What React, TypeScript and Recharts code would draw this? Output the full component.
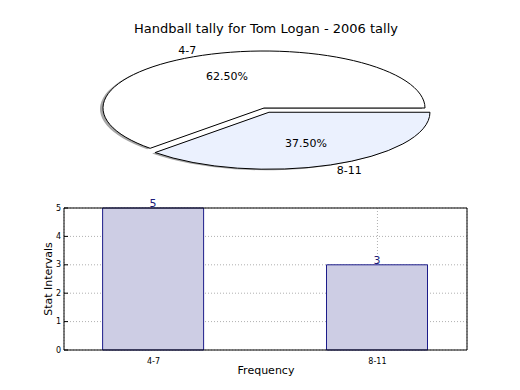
import { PieChart, Pie, BarChart, Bar, XAxis, YAxis, CartesianGrid, ReferenceLine, LabelList } from "recharts";

const categories = ["4-7", "8-11"];
const counts = [5, 3];
const yTicks = [0, 1, 2, 3, 4, 5];
const xTicks = [0, 1];

const sliceColors = ["#ffffff", "#ebf1fe"];
const explode = [0, 13];

const FONT = "'DejaVu Sans', sans-serif";
const SQUISH = 57 / 161;
const RAD = Math.PI / 180;

const pieRows = categories.map((label, i) => ({ label, value: counts[i], fill: sliceColors[i] }));
const barRows = categories.map((label, i) => ({ pos: i, label, value: counts[i] }));

// offset of a wedge (explode) in squished pie coordinates
function wedgeOffset(name: string, startAngle: number, endAngle: number) {
  const i = categories.indexOf(name);
  const mid = ((startAngle + endAngle) / 2) * RAD;
  const d = explode[i] || 0;
  return { ox: Math.cos(mid) * d, oy: -Math.sin(mid) * d * SQUISH };
}

function wedgePath(cx: number, cy: number, r: number, a0: number, a1: number) {
  const rx = r;
  const ry = r * SQUISH;
  const x0 = cx + rx * Math.cos(a0 * RAD);
  const y0 = cy - ry * Math.sin(a0 * RAD);
  const x1 = cx + rx * Math.cos(a1 * RAD);
  const y1 = cy - ry * Math.sin(a1 * RAD);
  const large = Math.abs(a1 - a0) > 180 ? 1 : 0;
  return `M${cx},${cy} L${x0},${y0} A${rx},${ry} 0 ${large} 0 ${x1},${y1} Z`;
}

function makeWedge(shadow: boolean) {
  return (props: any) => {
    const { cx, cy, outerRadius, startAngle, endAngle, payload } = props;
    const name = payload?.label ?? props.name;
    let { ox, oy } = wedgeOffset(name, startAngle, endAngle);
    if (shadow) {
      ox -= 3;
      oy += 1;
    }
    const d = wedgePath(cx + ox, cy + oy, outerRadius, startAngle, endAngle);
    if (shadow) return <path d={d} fill="#4d4d4d" fillOpacity={0.5} stroke="none" />;
    return <path d={d} fill={payload?.fill ?? props.fill} stroke="#000" strokeWidth={1} />;
  };
}

function pieLabel(props: any) {
  const { cx, cy, outerRadius, startAngle, endAngle, percent, payload } = props;
  const name = payload?.label ?? props.name;
  const { ox, oy } = wedgeOffset(name, startAngle, endAngle);
  const mid = ((startAngle + endAngle) / 2) * RAD;
  const c = Math.cos(mid);
  const s = Math.sin(mid);
  const lx = cx + ox + c * outerRadius * 1.1;
  const ly = cy + oy - s * outerRadius * 1.1 * SQUISH;
  const px = cx + ox + c * outerRadius * 0.6;
  const py = cy + oy - s * outerRadius * 0.6 * SQUISH;
  return (
    <g>
      <text x={lx} y={ly} textAnchor={c < 0 ? "end" : "start"} dominantBaseline="central" fontSize={11} fontFamily={FONT} fill="#000">
        {name}
      </text>
      <text x={px} y={py} textAnchor="middle" dominantBaseline="central" fontSize={11} fontFamily={FONT} fill="#000">
        {(percent * 100).toFixed(2)}%
      </text>
    </g>
  );
}

function YTick(props: any) {
  const { x, y, payload } = props;
  return (
    <g>
      <line x1={x + 3} x2={x + 7} y1={y} y2={y} stroke="#000" />
      <text x={x} y={y} textAnchor="end" dominantBaseline="central" fontSize={8} fontFamily={FONT} fill="#000">
        {payload.value}
      </text>
    </g>
  );
}

export default function App() {
  const wedge = makeWedge(false);
  const shadow = makeWedge(true);
  return (
    <div style={{ position: "absolute", left: 0, top: 0, width: 520, height: 390, background: "#fff", fontFamily: FONT }}>
      <div style={{ position: "absolute", left: 0, top: 21, width: 532, textAlign: "center", fontSize: 13, color: "#000" }}>
        Handball tally for Tom Logan - 2006 tally
      </div>

      <div style={{ position: "absolute", left: 0, top: 0 }}>
        <PieChart width={520} height={190} margin={{ top: 0, right: 0, bottom: 0, left: 0 }}>
          <Pie
            data={pieRows}
            dataKey="value"
            nameKey="label"
            cx={264}
            cy={108}
            outerRadius={161}
            startAngle={0}
            endAngle={360}
            isAnimationActive={false}
            shape={shadow}
            activeShape={shadow}
            inactiveShape={shadow}
            labelLine={false}
            label={false}
          />
          <Pie
            data={pieRows}
            dataKey="value"
            nameKey="label"
            cx={264}
            cy={108}
            outerRadius={161}
            startAngle={0}
            endAngle={360}
            isAnimationActive={false}
            shape={wedge}
            activeShape={wedge}
            inactiveShape={wedge}
            labelLine={false}
            label={pieLabel}
          />
        </PieChart>
      </div>

      <div style={{ position: "absolute", left: 0, top: 190 }}>
        <BarChart width={520} height={200} data={barRows} margin={{ top: 18, right: 53, bottom: 20, left: 44 }}>
          <CartesianGrid stroke="#b0b0b0" strokeDasharray="1 2" />
          <XAxis
            dataKey="pos"
            type="number"
            domain={[-0.4, 1.4]}
            ticks={xTicks}
            tickFormatter={(v: number) => categories[v]}
            height={20}
            axisLine={{ stroke: "#000" }}
            tickLine={false}
            tick={{ fontSize: 8, fill: "#000", fontFamily: FONT }}
            tickMargin={2}
          />
          <YAxis
            type="number"
            domain={[0, 5]}
            ticks={yTicks}
            width={20}
            axisLine={{ stroke: "#000" }}
            tickLine={false}
            tickSize={0}
            tickMargin={3}
            tick={<YTick />}
          />
          <ReferenceLine y={5} stroke="#000" />
          <ReferenceLine x={1.4} stroke="#000" />
          <Bar dataKey="value" barSize={101} fill="#cdcde4" stroke="#1c1c8a" strokeWidth={1} isAnimationActive={false}>
            <LabelList dataKey="value" position="top" offset={1} fontSize={11} fill="#1c1c7a" fontFamily={FONT} />
          </Bar>
        </BarChart>
      </div>

      <div style={{ position: "absolute", left: 0, top: 364, width: 532, textAlign: "center", fontSize: 11, color: "#000" }}>
        Frequency
      </div>
      <div
        style={{
          position: "absolute",
          left: 48,
          top: 279,
          fontSize: 11,
          color: "#000",
          whiteSpace: "nowrap",
          transform: "translate(-50%, -50%) rotate(-90deg)",
        }}
      >
        Stat Intervals
      </div>
    </div>
  );
}
